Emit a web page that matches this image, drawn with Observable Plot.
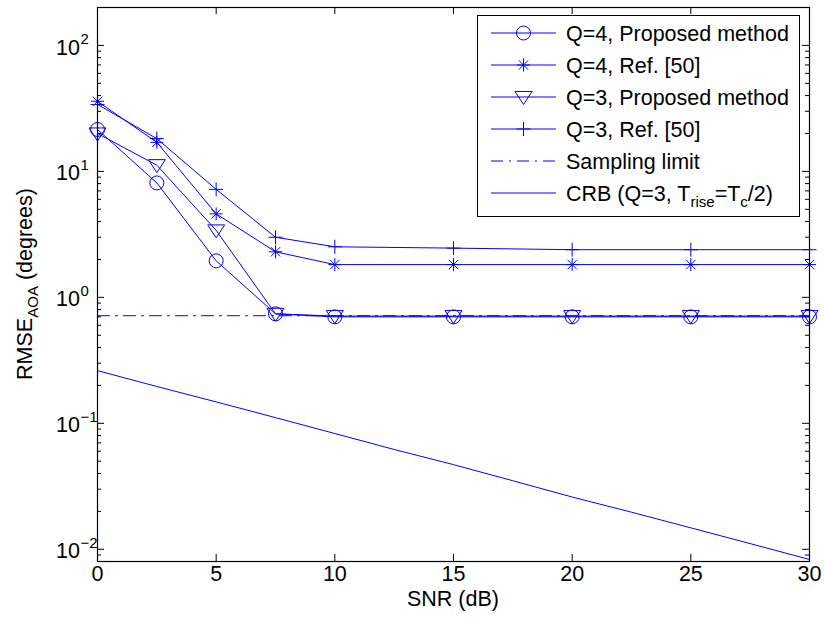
<!DOCTYPE html>
<html>
<head>
<meta charset="utf-8">
<script src="https://cdn.jsdelivr.net/npm/d3@7"></script>
<script src="https://cdn.jsdelivr.net/npm/@observablehq/plot@0.6"></script>
<style>
  body { margin: 0; background: #fff; }
  svg { display: block; }
</style>
</head>
<body>
<div id="chart"></div>
<script>
// ---- data ----
const snr = [0, 2.5, 5, 7.5, 10, 15, 20, 25, 30];
const q4Proposed = [21.5, 8.1, 1.95, 0.74, 0.70, 0.70, 0.70, 0.70, 0.70];
const q4Ref      = [36, 17, 4.6, 2.3, 1.82, 1.82, 1.82, 1.82, 1.82];
const q3Proposed = [20, 11.2, 3.4, 0.74, 0.71, 0.71, 0.71, 0.71, 0.71];
const q3Ref      = [34, 18.2, 7.2, 3.0, 2.52, 2.46, 2.39, 2.39, 2.39];
const samplingSnr = [0, 30];
const samplingLimit = [0.715, 0.715];
const crbSnr = [0, 2.5, 5, 7.5, 10, 12.5, 15, 17.5, 20, 22.5, 25, 27.5, 30];
const crb = [0.262, 0.196, 0.148, 0.111, 0.083, 0.062, 0.047, 0.035, 0.026, 0.0197, 0.0148, 0.0111, 0.0083];

const seriesNames = ["Q=4, Proposed method", "Q=4, Ref. [50]", "Q=3, Proposed method", "Q=3, Ref. [50]", "Sampling limit", "CRB"];
const xTicks = [0, 5, 10, 15, 20, 25, 30];
const yMajor = [0.01, 0.1, 1, 10, 100];
const yExponents = ["\u22122", "\u22121", "0", "1", "2"];
const yMinor = [0.008, 0.009,
  0.02, 0.03, 0.04, 0.05, 0.06, 0.07, 0.08, 0.09,
  0.2, 0.3, 0.4, 0.5, 0.6, 0.7, 0.8, 0.9,
  2, 3, 4, 5, 6, 7, 8, 9,
  20, 30, 40, 50, 60, 70, 80, 90];

// ---- styling ----
const BLUE = "#0000ff";
const FONT = "'Liberation Sans', Arial, Helvetica, sans-serif";
const FS = 21.5;

// custom marker shapes (d3 symbol types)
const rOf = size => Math.sqrt(size / Math.PI);
const triDown = { draw(c, size) { const r = rOf(size); c.moveTo(-r, -0.65 * r); c.lineTo(r, -0.65 * r); c.lineTo(0, 0.88 * r); c.closePath(); } };
const plusSym = { draw(c, size) { const r = rOf(size); c.moveTo(-r, 0); c.lineTo(r, 0); c.moveTo(0, -r); c.lineTo(0, r); } };
const starSym = { draw(c, size) { const r = rOf(size); const d = r * 0.72;
  c.moveTo(-r, 0); c.lineTo(r, 0); c.moveTo(0, -r); c.lineTo(0, r);
  c.moveTo(-d, -d); c.lineTo(d, d); c.moveTo(-d, d); c.lineTo(d, -d); } };

const rows = (xs, ys) => xs.map((x, i) => ({snr: x, rmse: ys[i]}));

const series = [
  {name: seriesNames[0], data: rows(snr, q4Proposed), symbol: d3.symbolCircle, r: 7},
  {name: seriesNames[1], data: rows(snr, q4Ref), symbol: starSym, r: 6.5},
  {name: seriesNames[2], data: rows(snr, q3Proposed), symbol: triDown, r: 8.5},
  {name: seriesNames[3], data: rows(snr, q3Ref), symbol: plusSym, r: 7}
];

const W = 824, H = 623;
const mL = 97, mR = 15, mT = 7, mB = 62;
const plotW = W - mL - mR, plotH = H - mT - mB;
const TK = 7, TKm = 4;
const marks = [];

// inward ticks on all four sides
const tickStyle = {stroke: "black", strokeWidth: 1};
marks.push(Plot.tickX(xTicks, {x: d => d, insetTop: plotH - TK, ...tickStyle}));
marks.push(Plot.tickX(xTicks, {x: d => d, insetBottom: plotH - TK, ...tickStyle}));
marks.push(Plot.tickY(yMajor, {y: d => d, insetRight: plotW - TK, ...tickStyle}));
marks.push(Plot.tickY(yMajor, {y: d => d, insetLeft: plotW - TK, ...tickStyle}));
marks.push(Plot.tickY(yMinor, {y: d => d, insetRight: plotW - TKm, ...tickStyle}));
marks.push(Plot.tickY(yMinor, {y: d => d, insetLeft: plotW - TKm, ...tickStyle}));

// x tick labels
marks.push(Plot.text(xTicks, {x: d => d, frameAnchor: "bottom", dy: 19.5, text: d => String(d), fontSize: FS, fill: "black"}));
// y tick labels 10^k
marks.push(Plot.text(yMajor, {y: d => d, frameAnchor: "left", dx: -17.5, dy: 2.2, text: () => "10", textAnchor: "end", fontSize: FS, fill: "black"}));
marks.push(Plot.text(yMajor, {y: d => d, frameAnchor: "left", dx: -17, dy: -5.8, text: (d, i) => yExponents[i], textAnchor: "start", fontSize: 15, fill: "black"}));

// data lines
marks.push(Plot.line(rows(crbSnr, crb), {x: "snr", y: "rmse", stroke: BLUE, strokeWidth: 1}));
marks.push(Plot.line(rows(samplingSnr, samplingLimit), {x: "snr", y: "rmse", stroke: BLUE, strokeWidth: 1, strokeDasharray: "12,6,2,6"}));
for (const s of series) {
  marks.push(Plot.line(s.data, {x: "snr", y: "rmse", stroke: BLUE, strokeWidth: 1}));
}
for (const s of series) {
  marks.push(Plot.dot(s.data, {x: "snr", y: "rmse", symbol: s.symbol, r: s.r, stroke: BLUE, fill: "none", strokeWidth: 1}));
}
marks.push(Plot.frame({stroke: "black", strokeWidth: 1.2}));

const plot = Plot.plot({
  width: W,
  height: H,
  marginLeft: mL,
  marginRight: mR,
  marginTop: mT,
  marginBottom: mB,
  style: {fontFamily: FONT, fontSize: FS + "px", color: "black", background: "white"},
  x: {domain: [0, 30], axis: null},
  y: {type: "log", domain: [0.008, 200], axis: null},
  marks
});

const svg = d3.select(plot);

// axis titles
svg.append("text")
  .attr("x", 453).attr("y", 606)
  .attr("text-anchor", "middle")
  .attr("font-family", FONT).attr("font-size", FS).attr("fill", "black")
  .text("SNR (dB)");

const yl = svg.append("text")
  .attr("transform", "translate(32,284) rotate(-90)")
  .attr("text-anchor", "middle")
  .attr("font-family", FONT).attr("font-size", FS).attr("fill", "black");
yl.append("tspan").text("RMSE");
yl.append("tspan").attr("font-size", 15).attr("dy", 6).text("AOA");
yl.append("tspan").attr("dy", -6).text(" (degrees)");

// legend
const legendItems = [
  {label: [seriesNames[0]], symbol: d3.symbolCircle, r: 7},
  {label: [seriesNames[1]], symbol: starSym, r: 6.5},
  {label: [seriesNames[2]], symbol: triDown, r: 8.5},
  {label: [seriesNames[3]], symbol: plusSym, r: 7},
  {label: [seriesNames[4]], dash: "12,6,2,6"},
  {label: null}
];
const lg = svg.append("g").attr("text-anchor", "start");
lg.append("rect").attr("x", 477.5).attr("y", 15.5).attr("width", 322).attr("height", 201)
  .attr("fill", "white").attr("stroke", "black").attr("stroke-width", 1);
legendItems.forEach((it, i) => {
  const cy = 33 + 32 * i;
  lg.append("line").attr("x1", 491).attr("x2", 556).attr("y1", cy).attr("y2", cy)
    .attr("stroke", BLUE).attr("stroke-width", 1).attr("stroke-dasharray", it.dash || null);
  if (it.symbol) {
    lg.append("path").attr("transform", `translate(523.5,${cy})`)
      .attr("d", d3.symbol(it.symbol, Math.PI * it.r * it.r)())
      .attr("fill", "none").attr("stroke", BLUE).attr("stroke-width", 1);
  }
  const t = lg.append("text").attr("x", 566).attr("y", cy + 7.5)
    .attr("text-anchor", "start")
    .attr("font-family", FONT).attr("font-size", FS).attr("fill", "black");
  if (it.label) {
    t.text(it.label[0]);
  } else {
    t.append("tspan").text(seriesNames[5] + " (Q=3, T");
    t.append("tspan").attr("font-size", 15).attr("dy", 6).text("rise");
    t.append("tspan").attr("dy", -6).text("=T");
    t.append("tspan").attr("font-size", 15).attr("dy", 6).text("c");
    t.append("tspan").attr("dy", -6).text("/2)");
  }
});

document.getElementById("chart").appendChild(plot);
</script>
</body>
</html>
